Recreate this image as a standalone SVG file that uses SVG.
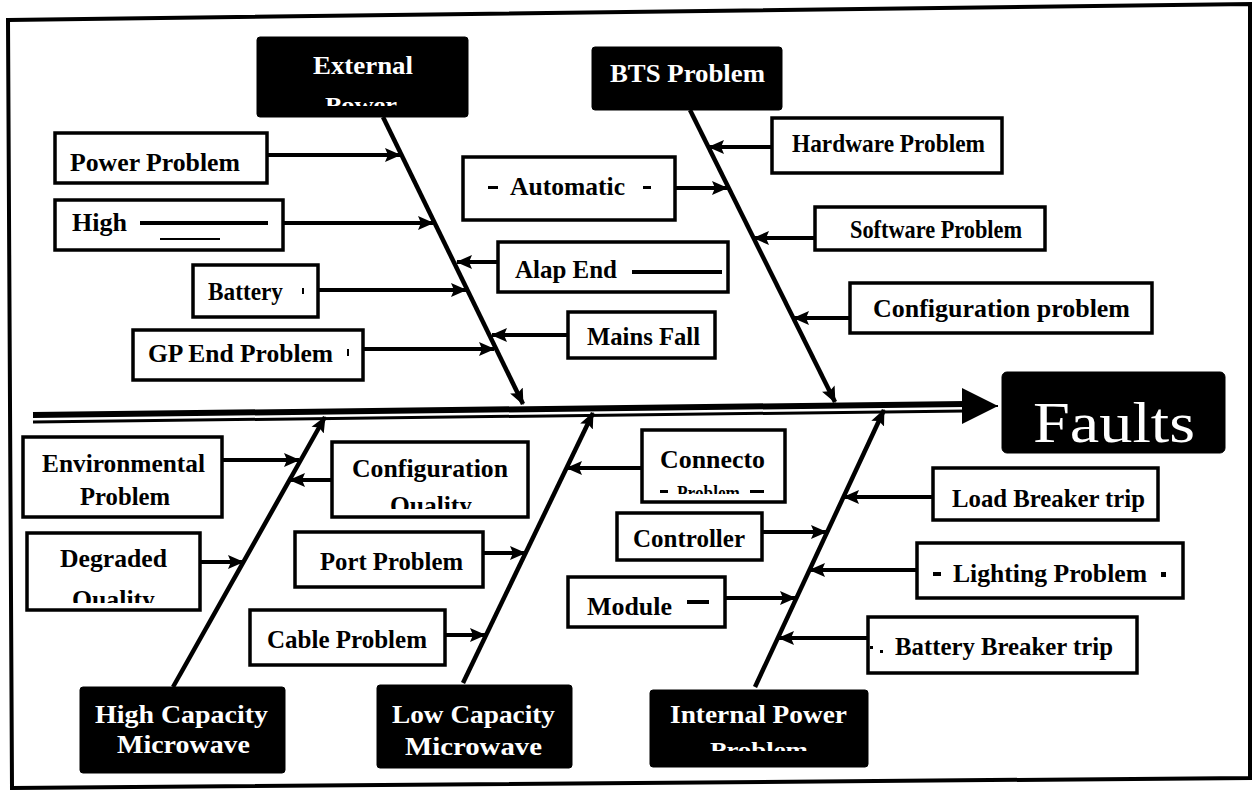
<svg xmlns="http://www.w3.org/2000/svg" width="1257" height="790" viewBox="0 0 1257 790">
  <defs>
    <style>
      .frame { fill: none; stroke: #000; stroke-width: 4; stroke-linejoin: miter; }
      .cause { fill: #fff; stroke: #000; stroke-width: 3.5; }
      .cat { fill: #000; stroke: #000; stroke-width: 1; }
      .t { font-family: "Liberation Serif", "Times New Roman", serif; font-size: 25px; font-weight: bold; fill: #000; }
      .w { font-family: "Liberation Serif", "Times New Roman", serif; font-size: 25px; font-weight: bold; fill: #fff; }
      .bone { stroke: #000; stroke-width: 4.5; fill: none; }
      .arr { stroke: #000; stroke-width: 4; fill: none; marker-end: url(#head); }
      .smudge { fill: #000; }
    </style>
    <marker id="head" markerUnits="userSpaceOnUse" markerWidth="18" markerHeight="16" refX="15" refY="8" orient="auto">
      <path d="M0,1 L16,8 L0,15 L3,8 Z" fill="#000"/>
    </marker>
    <marker id="bighead" markerUnits="userSpaceOnUse" markerWidth="40" markerHeight="40" refX="36" refY="20" orient="auto">
      <path d="M0,2 L36,20 L0,38 Z" fill="#000"/>
    </marker>
    <clipPath id="clipPower"><rect x="257" y="37" width="211" height="69"/></clipPath>
    <clipPath id="clipDegQ"><rect x="27" y="533" width="173" height="70"/></clipPath>
    <clipPath id="clipCfgQ"><rect x="332" y="442" width="196" height="67"/></clipPath>
    <clipPath id="clipConn"><rect x="642" y="430" width="143" height="64"/></clipPath>
    <clipPath id="clipIntP"><rect x="650" y="690" width="218" height="61"/></clipPath>
  </defs>

  <rect x="0" y="0" width="1257" height="790" fill="#fff"/>

  <!-- outer frame -->
  <path class="frame" d="M8,20 L1250,4 L1250,778 L12,788 Z"/>

  <!-- spine and bones -->
  <g id="connectors">
    <path d="M33,415 L965,404" stroke="#000" stroke-width="6" fill="none"/>
    <path d="M33,422 L965,411" stroke="#000" stroke-width="3" fill="none"/>
    <path d="M963,406 L998,406" stroke="#000" stroke-width="2" fill="none" marker-end="url(#bighead)"/>

    <!-- main bones -->
    <path class="bone" d="M383,117 L523,404" marker-end="url(#head)"/>
    <path class="bone" d="M690,110 L835,402" marker-end="url(#head)"/>
    <path class="bone" d="M173,687 L325,417" marker-end="url(#head)"/>
    <path class="bone" d="M463,683 L593,413" marker-end="url(#head)"/>
    <path class="bone" d="M755,687 L884,410" marker-end="url(#head)"/>

    <!-- External Power causes -->
    <path class="arr" d="M267,155 L400,155"/>
    <path class="arr" d="M283,223 L433,223"/>
    <path class="arr" d="M318,290 L466,290"/>
    <path class="arr" d="M363,349 L494,349"/>
    <path class="arr" d="M498,262 L457,262"/>
    <path class="arr" d="M568,335 L492,335"/>

    <!-- BTS causes -->
    <path class="arr" d="M675,188 L727,188"/>
    <path class="arr" d="M772,147 L709,147"/>
    <path class="arr" d="M815,238 L754,238"/>
    <path class="arr" d="M850,318 L794,318"/>

    <!-- High Capacity Microwave causes -->
    <path class="arr" d="M222,460 L299,460"/>
    <path class="arr" d="M332,480 L290,480"/>
    <path class="arr" d="M200,562 L243,562"/>

    <!-- Low Capacity Microwave causes -->
    <path class="arr" d="M483,553 L525,553"/>
    <path class="arr" d="M445,635 L485,635"/>
    <path class="arr" d="M642,468 L567,468"/>

    <!-- Internal Power causes -->
    <path class="arr" d="M762,532 L826,532"/>
    <path class="arr" d="M725,598 L795,598"/>
    <path class="arr" d="M933,497 L844,497"/>
    <path class="arr" d="M917,570 L810,570"/>
    <path class="arr" d="M868,638 L779,638"/>
  </g>

  <!-- head -->
  <g id="faults">
    <rect class="cat" x="1002" y="372" width="223" height="81" rx="5"/>
    <text class="w" x="1033" y="442" style="font-size:58px;font-weight:normal" textLength="162" lengthAdjust="spacingAndGlyphs">Faults</text>
  </g>

  <!-- categories -->
  <g id="external-power">
    <rect class="cat" x="257" y="37" width="211" height="80" rx="3"/>
    <text class="w" x="313" y="74" textLength="100" lengthAdjust="spacingAndGlyphs">External</text>
    <text class="w" x="325" y="112" clip-path="url(#clipPower)" style="font-size:22px" textLength="72" lengthAdjust="spacingAndGlyphs">Power</text>
  </g>
  <g id="bts-problem">
    <rect class="cat" x="592" y="47" width="190" height="63" rx="3"/>
    <text class="w" x="610" y="82" textLength="155" lengthAdjust="spacingAndGlyphs">BTS Problem</text>
  </g>
  <g id="high-capacity-microwave">
    <rect class="cat" x="80" y="687" width="205" height="86" rx="3"/>
    <text class="w" x="95" y="723" textLength="173" lengthAdjust="spacingAndGlyphs">High Capacity</text>
    <text class="w" x="117" y="753" textLength="133" lengthAdjust="spacingAndGlyphs">Microwave</text>
  </g>
  <g id="low-capacity-microwave">
    <rect class="cat" x="377" y="685" width="195" height="83" rx="3"/>
    <text class="w" x="392" y="723" textLength="163" lengthAdjust="spacingAndGlyphs">Low Capacity</text>
    <text class="w" x="405" y="755" textLength="137" lengthAdjust="spacingAndGlyphs">Microwave</text>
  </g>
  <g id="internal-power-problem">
    <rect class="cat" x="650" y="690" width="218" height="77" rx="3"/>
    <text class="w" x="670" y="723" textLength="177" lengthAdjust="spacingAndGlyphs">Internal Power</text>
    <text class="w" x="710" y="757" clip-path="url(#clipIntP)" style="font-size:21px" textLength="98" lengthAdjust="spacingAndGlyphs">Problem</text>
  </g>

  <!-- causes: External Power -->
  <g id="power-problem">
    <rect class="cause" x="55" y="133" width="212" height="50"/>
    <text class="t" x="70" y="171" textLength="170" lengthAdjust="spacingAndGlyphs">Power Problem</text>
  </g>
  <g id="high">
    <rect class="cause" x="55" y="200" width="228" height="50"/>
    <text class="t" x="72" y="231" textLength="55" lengthAdjust="spacingAndGlyphs">High</text>
    <rect class="smudge" x="140" y="221" width="128" height="4"/>
    <rect class="smudge" x="160" y="238" width="60" height="2"/>
  </g>
  <g id="battery">
    <rect class="cause" x="193" y="265" width="125" height="52"/>
    <text class="t" x="208" y="300" textLength="75" lengthAdjust="spacingAndGlyphs">Battery</text>
    <rect class="smudge" x="302" y="288" width="2" height="6"/>
  </g>
  <g id="gp-end-problem">
    <rect class="cause" x="133" y="330" width="230" height="50"/>
    <text class="t" x="148" y="362" textLength="185" lengthAdjust="spacingAndGlyphs">GP End Problem</text>
    <rect class="smudge" x="347" y="349" width="2" height="7"/>
  </g>
  <g id="alap-end">
    <rect class="cause" x="498" y="242" width="230" height="50"/>
    <text class="t" x="515" y="278" textLength="102" lengthAdjust="spacingAndGlyphs">Alap End</text>
    <rect class="smudge" x="632" y="270" width="90" height="4"/>
  </g>
  <g id="mains-fall">
    <rect class="cause" x="568" y="312" width="147" height="46"/>
    <text class="t" x="587" y="345" textLength="113" lengthAdjust="spacingAndGlyphs">Mains Fall</text>
  </g>

  <!-- causes: BTS -->
  <g id="automatic">
    <rect class="cause" x="463" y="157" width="212" height="63"/>
    <text class="t" x="510" y="195" textLength="115" lengthAdjust="spacingAndGlyphs">Automatic</text>
    <rect class="smudge" x="488" y="186" width="10" height="3"/>
    <rect class="smudge" x="643" y="186" width="8" height="3"/>
  </g>
  <g id="hardware-problem">
    <rect class="cause" x="772" y="118" width="230" height="55"/>
    <text class="t" x="792" y="152" textLength="193" lengthAdjust="spacingAndGlyphs">Hardware Problem</text>
  </g>
  <g id="software-problem">
    <rect class="cause" x="815" y="207" width="230" height="43"/>
    <text class="t" x="850" y="238" textLength="172" lengthAdjust="spacingAndGlyphs">Software Problem</text>
  </g>
  <g id="configuration-problem">
    <rect class="cause" x="850" y="283" width="302" height="50"/>
    <text class="t" x="873" y="317" textLength="257" lengthAdjust="spacingAndGlyphs">Configuration problem</text>
  </g>

  <!-- causes: High Capacity Microwave -->
  <g id="environmental-problem">
    <rect class="cause" x="23" y="437" width="199" height="80"/>
    <text class="t" x="42" y="472" textLength="163" lengthAdjust="spacingAndGlyphs">Environmental</text>
    <text class="t" x="80" y="505" textLength="90" lengthAdjust="spacingAndGlyphs">Problem</text>
  </g>
  <g id="degraded-quality">
    <rect class="cause" x="27" y="533" width="173" height="77"/>
    <text class="t" x="60" y="567" textLength="107" lengthAdjust="spacingAndGlyphs">Degraded</text>
    <text class="t" x="72" y="608" clip-path="url(#clipDegQ)" textLength="83" lengthAdjust="spacingAndGlyphs">Quality</text>
  </g>
  <g id="configuration-quality">
    <rect class="cause" x="332" y="442" width="196" height="75"/>
    <text class="t" x="352" y="477" textLength="156" lengthAdjust="spacingAndGlyphs">Configuration</text>
    <text class="t" x="390" y="514" clip-path="url(#clipCfgQ)" textLength="82" lengthAdjust="spacingAndGlyphs">Quality</text>
  </g>

  <!-- causes: Low Capacity Microwave -->
  <g id="port-problem">
    <rect class="cause" x="295" y="532" width="188" height="55"/>
    <text class="t" x="320" y="570" textLength="143" lengthAdjust="spacingAndGlyphs">Port Problem</text>
  </g>
  <g id="cable-problem">
    <rect class="cause" x="250" y="610" width="195" height="55"/>
    <text class="t" x="267" y="648" textLength="160" lengthAdjust="spacingAndGlyphs">Cable Problem</text>
  </g>
  <g id="connector-problem">
    <rect class="cause" x="642" y="430" width="143" height="72"/>
    <text class="t" x="660" y="468" textLength="105" lengthAdjust="spacingAndGlyphs">Connecto</text>
    <text class="t" x="677" y="500" clip-path="url(#clipConn)" style="font-size:20px" textLength="63" lengthAdjust="spacingAndGlyphs">Problem</text>
    <rect class="smudge" x="660" y="490" width="8" height="3"/>
    <rect class="smudge" x="750" y="490" width="14" height="3"/>
  </g>

  <!-- causes: Internal Power -->
  <g id="controller">
    <rect class="cause" x="617" y="513" width="145" height="47"/>
    <text class="t" x="633" y="547" textLength="112" lengthAdjust="spacingAndGlyphs">Controller</text>
  </g>
  <g id="module">
    <rect class="cause" x="568" y="577" width="157" height="50"/>
    <text class="t" x="587" y="615" textLength="85" lengthAdjust="spacingAndGlyphs">Module</text>
    <rect class="smudge" x="687" y="600" width="22" height="4"/>
  </g>
  <g id="load-breaker-trip">
    <rect class="cause" x="933" y="468" width="225" height="52"/>
    <text class="t" x="952" y="507" textLength="193" lengthAdjust="spacingAndGlyphs">Load Breaker trip</text>
  </g>
  <g id="lighting-problem">
    <rect class="cause" x="917" y="543" width="266" height="55"/>
    <text class="t" x="953" y="582" textLength="194" lengthAdjust="spacingAndGlyphs">Lighting Problem</text>
    <rect class="smudge" x="933" y="572" width="8" height="4"/>
    <rect class="smudge" x="1161" y="572" width="5" height="5"/>
  </g>
  <g id="battery-breaker-trip">
    <rect class="cause" x="868" y="617" width="269" height="56"/>
    <text class="t" x="895" y="655" textLength="218" lengthAdjust="spacingAndGlyphs">Battery Breaker trip</text>
    <rect class="smudge" x="870" y="646" width="3" height="3"/>
    <rect class="smudge" x="880" y="650" width="3" height="3"/>
  </g>
</svg>
